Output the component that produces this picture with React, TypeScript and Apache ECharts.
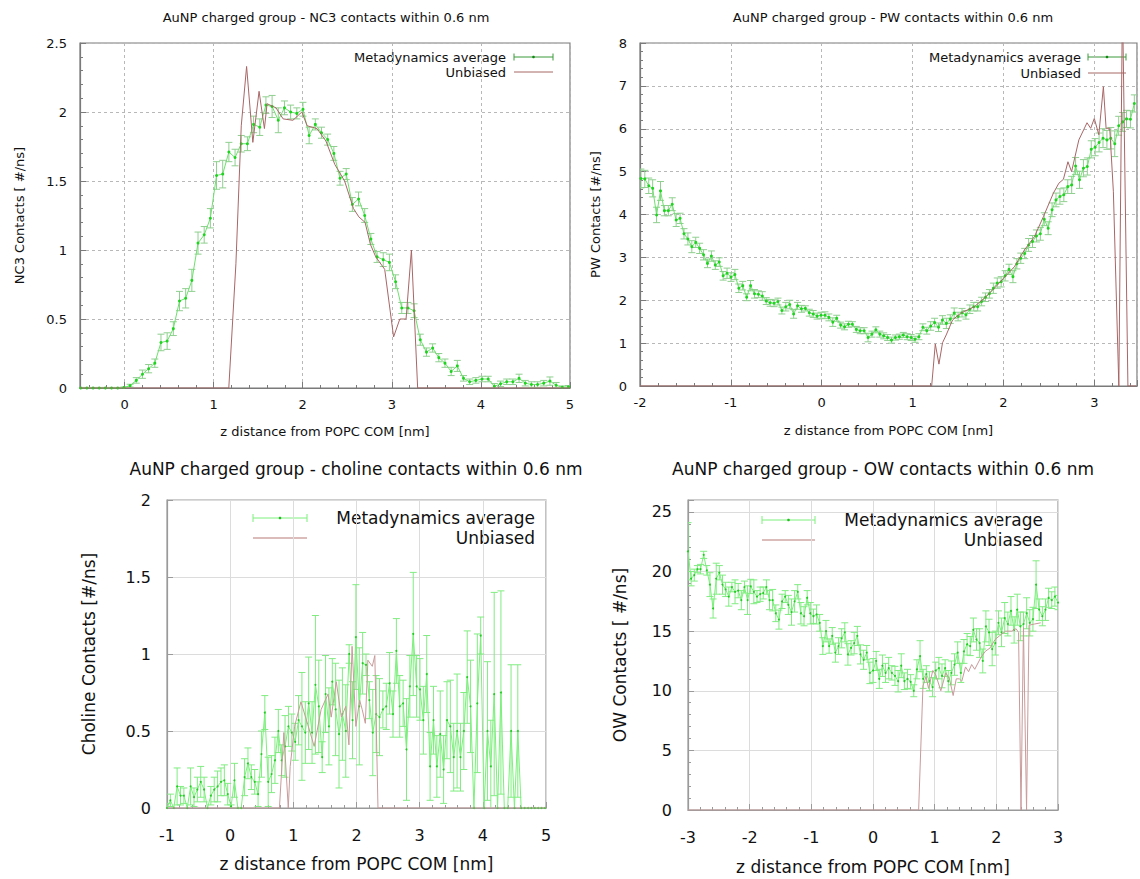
import React, { useEffect, useRef } from "react";
import * as echarts from "echarts";

const FONT = "DejaVu Sans, Verdana, sans-serif";

// ---------- Panel 1: NC3 contacts ----------
const nc3Start = -0.492;
const nc3Step = 0.0693;
const nc3Y = [
  0, 0, 0, 0, 0, 0, 0, 0.003,
  0.017, 0.055, 0.10, 0.14, 0.18, 0.33, 0.34, 0.43,
  0.63, 0.65, 0.78, 1.05, 1.11, 1.23, 1.54, 1.55,
  1.71, 1.67, 1.77, 1.77, 1.91, 1.89, 2.05, 2.04,
  1.94, 2.03, 2.0, 1.99, 2.02, 1.83, 1.91, 1.85,
  1.80, 1.70, 1.52, 1.55, 1.33, 1.37, 1.25, 1.08,
  0.95, 0.93, 0.91, 0.77, 0.58, 0.58, 0.56, 0.35,
  0.26, 0.29, 0.22, 0.18, 0.12, 0.16, 0.07, 0.045,
  0.055, 0.065, 0.065, 0.012, 0.03, 0.045, 0.045, 0.07,
  0.035, 0.025, 0.025, 0.035, 0.05, 0.02, 0.005, 0.008,
];
const nc3Err = [
  0.004, 0.004, 0.004, 0.004, 0.004, 0.004, 0.004, 0.004,
  0.01, 0.02, 0.03, 0.03, 0.03, 0.06, 0.06, 0.05,
  0.07, 0.07, 0.08, 0.08, 0.06, 0.07, 0.1, 0.1,
  0.07, 0.06, 0.06, 0.05, 0.06, 0.06, 0.06, 0.08,
  0.09, 0.05, 0.05, 0.04, 0.05, 0.06, 0.04, 0.04,
  0.04, 0.05, 0.05, 0.04, 0.05, 0.05, 0.05, 0.04,
  0.04, 0.05, 0.06, 0.05, 0.04, 0.04, 0.05, 0.04,
  0.03, 0.03, 0.03, 0.03, 0.03, 0.04, 0.02, 0.02,
  0.02, 0.02, 0.02, 0.02, 0.02, 0.02, 0.02, 0.03,
  0.02, 0.02, 0.02, 0.02, 0.03, 0.02, 0.01, 0.01,
];
const nc3UbX = [-0.5, 1.17, 1.25, 1.31, 1.37, 1.44, 1.51, 1.57, 1.6, 1.7, 1.78, 1.89, 1.99, 2.05, 2.16, 2.26, 2.36, 2.47, 2.57, 2.63, 2.7, 2.76, 2.82, 2.92, 3.02, 3.09, 3.16, 3.22, 3.29, 5.0];
const nc3UbY = [0, 0, 0.9, 1.9, 2.33, 1.78, 2.15, 1.88, 2.06, 2.03, 1.95, 1.94, 2.0, 1.9, 1.88, 1.79, 1.62, 1.5, 1.3, 1.24, 1.2, 1.04, 0.95, 0.86, 0.37, 0.5, 0.5, 1.0, 0, 0];

// ---------- Panel 2: PW contacts ----------
const pwStart = -1.99;
const pwStep = 0.0431;
const pwY = [
  4.84, 4.83, 4.67, 4.61, 3.99, 4.55, 4.09, 4.09,
  4.24, 3.87, 3.91, 3.55, 3.43, 3.25, 3.35, 3.21,
  3.06, 2.86, 3.03, 2.82, 2.89, 2.57, 2.63, 2.54,
  2.6, 2.28, 2.34, 2.07, 2.34, 2.15, 2.14, 2.1,
  1.98, 1.94, 1.93, 1.97, 1.76, 1.85, 1.9, 1.68,
  1.87, 1.8, 1.81, 1.71, 1.68, 1.63, 1.65, 1.65,
  1.6, 1.49, 1.58, 1.42, 1.38, 1.44, 1.44, 1.32,
  1.29, 1.29, 1.13, 1.21, 1.31, 1.21,
  1.17, 1.13, 1.07, 1.13, 1.15, 1.19, 1.15, 1.13, 1.09, 1.15,
  1.37, 1.29, 1.40, 1.48, 1.37, 1.54, 1.46, 1.56, 1.70, 1.62,
  1.71, 1.66, 1.79, 1.85, 1.85, 1.97, 2.07, 2.15, 2.28, 2.40,
  2.43, 2.57, 2.72, 2.55, 2.85, 2.98, 3.09, 3.29, 3.37, 3.5,
  3.55, 3.89, 3.68, 4.11, 4.34, 4.42, 4.46, 4.65, 4.69, 5.13,
  4.81, 5.08, 5.12, 5.52, 5.57, 5.68, 5.78, 5.74, 5.78, 5.65,
  6.07, 6.16, 6.23, 6.22, 6.59,
];
const pwErr = [
  0.22, 0.2, 0.18, 0.2, 0.18, 0.22, 0.12, 0.12,
  0.15, 0.15, 0.12, 0.12, 0.14, 0.14, 0.12, 0.12,
  0.12, 0.1, 0.12, 0.1, 0.1, 0.1, 0.12, 0.1,
  0.12, 0.1, 0.1, 0.08, 0.12, 0.1, 0.08, 0.1,
  0.08, 0.08, 0.08, 0.08, 0.08, 0.1, 0.1, 0.1,
  0.08, 0.08, 0.06, 0.08, 0.08, 0.07, 0.07, 0.08,
  0.08, 0.1, 0.07, 0.07, 0.07, 0.07, 0.06, 0.07,
  0.07, 0.07, 0.1, 0.07, 0.07, 0.07,
  0.07, 0.07, 0.07, 0.06, 0.06, 0.06, 0.07, 0.07, 0.07, 0.07,
  0.08, 0.08, 0.1, 0.1, 0.1, 0.1, 0.12, 0.1, 0.12, 0.1,
  0.1, 0.1, 0.1, 0.1, 0.1, 0.1, 0.1, 0.1, 0.12, 0.12,
  0.12, 0.12, 0.12, 0.14, 0.12, 0.12, 0.12, 0.15, 0.14, 0.14,
  0.15, 0.15, 0.15, 0.16, 0.16, 0.18, 0.16, 0.16, 0.2, 0.2,
  0.2, 0.2, 0.2, 0.2, 0.2, 0.22, 0.22, 0.22, 0.25, 0.3,
  0.22, 0.22, 0.2, 0.2, 0.2,
];
const pwUbX = [-2, 1.21, 1.25, 1.29, 1.33, 1.37, 1.44, 1.53, 1.68, 1.79, 1.9, 2.0, 2.12, 2.23, 2.34, 2.44, 2.55, 2.61, 2.66, 2.71, 2.75, 2.83, 2.92, 2.96, 3.0, 3.05, 3.1, 3.13, 3.17, 3.21, 3.27, 3.31, 3.37, 3.46];
const pwUbY = [0, 0, 0.98, 0.51, 1.01, 1.19, 1.54, 1.7, 1.85, 2.05, 2.28, 2.51, 2.78, 3.17, 3.48, 3.95, 4.5, 4.73, 4.82, 5.23, 5.0, 5.74, 6.14, 6.01, 6.24, 5.86, 6.98, 6.01, 6.01, 4.53, 0, 9, 0, 0];

// ---------- Panel 3: choline contacts ----------
const choStart = -1.0;
const choStep = 0.0534;
const choY = [
  0, 0.05, 0, 0.14, 0.08, 0.08, 0, 0.14,
  0.07, 0.12, 0.17, 0.12, 0, 0.08, 0.12, 0.14,
  0.17, 0.18, 0.09, 0.01, 0.18, 0, 0, 0.2,
  0.29, 0.2, 0.17, 0.09, 0.35, 0.62, 0.17, 0.22,
  0.31, 0.5, 0.31, 0.4, 0.53, 0.49, 0.43, 0.57,
  0.53, 0.49, 0.68, 0.49, 0.8, 0.66, 0.33, 0.74,
  0.53, 0.82, 0.64, 0.48, 0.61, 0.5, 1.0, 0.57,
  1.11, 0.66, 0.94, 0.93, 0.7, 0.49, 0.61, 0.59,
  0.64, 0.66, 0.81, 0.61, 1.02, 0.66, 0.68, 0.38,
  0.79, 1.13, 0.79, 0.77, 0.57, 0.87, 0.27, 0.57,
  0.27, 0.48, 0.25, 0.57, 0.53, 0.33, 0.5, 0.33,
  0.5, 0.85, 0.66, 0, 0.68, 1.12, 0, 0.5,
  0.27, 0.74, 0, 0.75, 0, 0, 0.5, 0,
  0.5, 0, 0, 0, 0, 0, 0, 0,
  0,
];
const choErr = [
  0.03, 0.04, 0, 0.12, 0.06, 0.05, 0, 0.12,
  0.06, 0.08, 0.1, 0.08, 0, 0.06, 0.08, 0.1,
  0.09, 0.1, 0.07, 0.01, 0.11, 0, 0, 0.12,
  0.1, 0.08, 0.08, 0.08, 0.15, 0.11, 0.16, 0.12,
  0.15, 0.14, 0.1, 0.2, 0.13, 0.12, 0.12, 0.16,
  0.35, 0.2, 0.3, 0.2, 0.45, 0.3, 0.1, 0.25,
  0.25, 0.15, 0.3, 0.35, 0.3, 0.3, 0.06, 0.25,
  0.34, 0.38, 0.2, 0.07, 0.12, 0.28, 0.25, 0.25,
  0.12, 0.15, 0.2, 0.15, 0.21, 0.2, 0.15, 0.33,
  0.2, 0.4, 0.2, 0.2, 0.22, 0.25, 0.22, 0.22,
  0.2, 0.28, 0.22, 0.25, 0.3, 0.22, 0.37, 0.22,
  0.25, 0.3, 0.3, 0, 0.45, 0.12, 0, 0.45,
  0.3, 0.66, 0, 0.66, 0, 0, 0.43, 0,
  0.43, 0, 0, 0, 0, 0, 0, 0,
  0,
];
const choUbX = [-1, 0.78, 0.85, 0.92, 0.95, 1.02, 1.12, 1.23, 1.33, 1.44, 1.55, 1.6, 1.68, 1.76, 1.83, 1.88, 1.93, 1.99, 2.05, 2.09, 2.14, 2.18, 2.25, 2.29, 2.34, 5];
const choUbY = [0, 0, 0.49, 0, 0.27, 0.53, 0.69, 0.54, 0.4, 0.64, 0.74, 0.59, 0.82, 0.59, 0.66, 0.41, 1.05, 0.53, 0.7, 0.64, 0.55, 0.96, 0.92, 0.99, 0, 0];

// ---------- Panel 4: OW contacts ----------
const owStart = -3.0;
const owStep = 0.05085;
const owY = [
  21.7, 19.4, 19.7, 20.2, 20.2, 21.4, 20.1, 18.9,
  16.9, 19.4, 19.9, 18.9, 18.5, 17.9, 18.7, 18.3,
  18.4, 17.6, 18.7, 17.6, 18.75, 18.3, 17.9, 18.1,
  18.2, 18.7, 17.6, 17.6, 16.5, 15.97, 17.5, 17.9,
  17.2, 16.6, 17.5, 18.3, 16.5, 16.25, 17.8, 16.5,
  16.25, 16.4, 15.7, 13.75, 15.0, 13.75, 14.6, 13.2,
  13.75, 14.4, 14.9, 13.05, 13.6, 14.0, 14.6, 13.05,
  12.6, 13.2, 11.5, 11.7, 12.5, 11.0, 12.1, 11.5,
  11.9, 11.5, 11.25, 10.8, 12.1, 10.8, 11.0, 10.75,
  10.0, 11.8, 12.9, 11.0, 11.4, 10.8, 10.3, 11.7,
  11.9, 11.25, 11.9, 10.8, 11.5, 12.2, 13.2, 11.5,
  13.3, 13.9, 13.75, 15.1, 14.3, 14.0, 12.5, 15.4,
  14.9, 13.5, 14.0, 15.7, 14.9, 16.1, 15.6, 16.7,
  15.1, 16.8, 15.4, 15.6, 16.5, 15.7, 16.0, 18.9,
  16.8, 16.25, 16.8, 17.8, 17.6, 17.9, 17.4,
];
const owErr = [
  2.4, 0.6, 0.5, 0.3, 0.4, 0.3, 0.4, 1.0,
  0.8, 1.3, 0.6, 0.8, 0.6, 0.8, 0.4, 1.0,
  0.6, 0.8, 0.5, 1.2, 0.6, 1.0, 0.5, 0.6,
  0.5, 0.6, 0.8, 0.9, 0.7, 0.8, 0.6, 0.5,
  0.8, 1.1, 0.9, 0.6, 0.9, 0.8, 0.6, 0.9,
  0.6, 0.8, 0.7, 0.7, 0.9, 0.6, 0.7, 0.8,
  0.7, 0.8, 0.8, 0.9, 0.6, 0.9, 0.8, 0.8,
  0.8, 0.6, 0.9, 1.0, 0.8, 0.8, 0.9, 0.8,
  0.9, 0.6, 0.8, 0.9, 1.0, 0.7, 0.8, 0.6,
  0.5, 0.8, 1.3, 0.8, 0.7, 0.8, 0.8, 0.7,
  0.9, 1.0, 0.7, 0.9, 1.0, 0.9, 0.9, 0.8,
  1.0, 0.9, 0.8, 1.0, 0.9, 1.2, 1.0, 1.3,
  1.1, 1.4, 1.0, 1.0, 1.2, 1.3, 1.0, 1.2,
  1.1, 1.3, 1.2, 1.0, 1.3, 1.1, 1.0, 2.0,
  0.9, 0.8, 0.9, 0.8, 0.7, 0.8, 0.6,
];
const owUbX = [-3, 0.74, 0.81, 0.86, 0.9, 0.97, 1.02, 1.1, 1.18, 1.24, 1.3, 1.35, 1.4, 1.44, 1.5, 1.55, 1.6, 1.65, 1.75, 1.82, 1.9, 1.98, 2.05, 2.15, 2.25, 2.32, 2.36, 2.4, 2.44, 2.49, 2.53, 2.62, 2.72];
const owUbY = [0, 0, 10.4, 11.2, 10.2, 11.7, 11.3, 10.0, 11.5, 11.0, 9.6, 11.0, 11.0, 10.8, 12.0, 11.6, 12.2, 11.8, 12.8, 13.3, 13.6, 14.3, 14.6, 15.0, 15.0, 15.2, 14.9, 0, 15.3, 0, 15.5, 15.6, 15.7];

// ---------- Texts ----------
const titles = [
  "AuNP charged group - NC3 contacts within 0.6 nm",
  "AuNP charged group - PW contacts within 0.6 nm",
  "AuNP charged group - choline contacts within 0.6 nm",
  "AuNP charged group - OW contacts within 0.6 nm",
];
const yNames = ["NC3 Contacts [ #/ns]", "PW Contacts [#/ns]", "Choline Contacts [#/ns]", "OW Contacts [ #/ns]"];
const xName = "z distance from POPC COM [nm]";
const legendNames = ["Metadynamics average", "Unbiased"];

function triples(start: number, step: number, ys: number[], errs: number[]) {
  return ys.map((y, i) => [+(start + i * step).toFixed(4), y, errs[i] ?? 0]);
}
function pairs(xs: number[], ys: number[]) {
  return xs.map((x, i) => [x, ys[i]]);
}

const panels = [
  {
    grid: { left: 80, top: 43, width: 490, height: 345 },
    x: { min: -0.5, max: 5, iv: 1 }, y: { min: 0, max: 2.5, iv: 0.5 },
    data: triples(nc3Start, nc3Step, nc3Y, nc3Err), ub: pairs(nc3UbX, nc3UbY),
    big: false, title: { x: 326, y: 11 },
    yGap: 54, xGap: 37, legend: { tr: 506, y1: 57, y2: 72, s1: 514, s2: 553 },
  },
  {
    grid: { left: 640, top: 43, width: 500, height: 343 },
    x: { min: -2, max: 3.47, iv: 1 }, y: { min: 0, max: 8, iv: 1 },
    data: triples(pwStart, pwStep, pwY, pwErr), ub: pairs(pwUbX, pwUbY),
    big: false, title: { x: 893, y: 11 },
    yGap: 38, xGap: 38, legend: { tr: 1081, y1: 57, y2: 73, s1: 1088, s2: 1126 },
  },
  {
    grid: { left: 167, top: 500, width: 379, height: 308 },
    x: { min: -1, max: 5, iv: 1 }, y: { min: 0, max: 2, iv: 0.5 },
    data: triples(choStart, choStep, choY, choErr), ub: pairs(choUbX, choUbY),
    big: true, title: { x: 356, y: 460 },
    yGap: 70, xGap: 47, legend: { tr: 535, y1: 518, y2: 538, s1: 253, s2: 307 },
  },
  {
    grid: { left: 688, top: 500, width: 370, height: 310 },
    x: { min: -3, max: 3, iv: 1 }, y: { min: 0, max: 26, iv: 5 },
    data: triples(owStart, owStep, owY, owErr), ub: pairs(owUbX, owUbY),
    big: true, title: { x: 883, y: 460 },
    yGap: 60, xGap: 48, legend: { tr: 1043, y1: 520, y2: 540, s1: 762, s2: 815 },
  },
];

function labelFmt(iv: number) {
  return (v: number) => {
    const r = v / iv;
    if (Math.abs(r - Math.round(r)) > 1e-6) return "";
    return String(+v.toFixed(4));
  };
}

export default function App() {
  const ref = useRef<HTMLDivElement>(null);
  useEffect(() => {
    if (!ref.current) return;
    const chart = echarts.init(ref.current, null, { renderer: "svg" });

    const grids: any[] = [];
    const xAxes: any[] = [];
    const yAxes: any[] = [];
    const series: any[] = [];
    const titleArr: any[] = [];
    const graphics: any[] = [];

    panels.forEach((p, gi) => {
      const big = p.big;
      const tickFont = big ? 16 : 13;
      const nameFont = big ? 17 : 13;
      const borderColor = big ? "#9a9a9a" : "#7a7a7a";
      const splitStyle = big
        ? { color: "#dcdcdc", width: 1, type: "solid" }
        : { color: "#b8b8b8", width: 1, type: [3, 3] };
      const metColor = big ? "#7cf07c" : "#6ee06e";
      const barColor = big ? "#80ec80" : "#8fcf8f";
      const ptColor = big ? "#22cc22" : "#1ed41e";
      const ubColor = big ? "#c99a9a" : "#a86666";
      const cap = 3.5;

      grids.push({ ...p.grid, show: true, borderColor, borderWidth: 1.2, backgroundColor: "transparent", containLabel: false });
      xAxes.push({
        type: "value", gridIndex: gi, min: p.x.min, max: p.x.max, minInterval: p.x.iv, maxInterval: p.x.iv,
        name: xName, nameLocation: "middle", nameGap: p.xGap,
        nameTextStyle: { fontSize: nameFont, color: "#111", fontFamily: FONT },
        axisLine: { show: true, onZero: false, lineStyle: { color: borderColor, width: 1.2 } },
        axisTick: { show: true, inside: true, length: 6, lineStyle: { color: borderColor } },
        minorTick: { show: true, splitNumber: 5, length: 3, lineStyle: { color: borderColor } },
        axisLabel: { fontSize: tickFont, color: "#111", fontFamily: FONT, margin: big ? 19 : 10, formatter: labelFmt(p.x.iv) },
        splitLine: { show: true, lineStyle: splitStyle },
      });
      yAxes.push({
        type: "value", gridIndex: gi, min: p.y.min, max: p.y.max, interval: p.y.iv,
        name: yNames[gi], nameLocation: "middle", nameGap: p.yGap, nameRotate: 90,
        nameTextStyle: { fontSize: nameFont, color: "#111", fontFamily: FONT },
        axisLine: { show: true, onZero: false, lineStyle: { color: borderColor, width: 1.2 } },
        axisTick: { show: true, inside: true, length: 6, lineStyle: { color: borderColor } },
        minorTick: { show: gi !== 2, splitNumber: 5, length: 3, lineStyle: { color: borderColor } },
        axisLabel: { fontSize: tickFont, color: "#111", fontFamily: FONT, margin: big ? 16 : 13, formatter: labelFmt(p.y.iv) },
        splitLine: { show: true, lineStyle: splitStyle },
      });

      // error bars
      series.push({
        type: "custom", name: legendNames[0] + " error", xAxisIndex: gi, yAxisIndex: gi,
        clip: true, silent: true, z: 2,
        data: p.data, encode: { x: 0, y: 1 },
        renderItem: (params: any, api: any) => {
          const x = api.value(0), y = api.value(1), e = api.value(2);
          if (!(e > 0)) return null;
          const lo = api.coord([x, y - e]);
          const hi = api.coord([x, y + e]);
          const style = { stroke: barColor, lineWidth: 1, fill: "none" };
          return {
            type: "group",
            children: [
              { type: "line", shape: { x1: lo[0], y1: lo[1], x2: hi[0], y2: hi[1] }, style },
              { type: "line", shape: { x1: lo[0] - cap, y1: lo[1], x2: lo[0] + cap, y2: lo[1] }, style },
              { type: "line", shape: { x1: hi[0] - cap, y1: hi[1], x2: hi[0] + cap, y2: hi[1] }, style },
            ],
          };
        },
      });
      // mean line
      series.push({
        type: "line", name: legendNames[0], xAxisIndex: gi, yAxisIndex: gi, z: 3,
        data: p.data.map((d) => [d[0], d[1]]),
        symbol: "circle", symbolSize: big ? 2 : 3, showSymbol: true,
        lineStyle: { color: metColor, width: 1 }, itemStyle: { color: ptColor, borderWidth: 0 },
        clip: true, silent: true,
      });
      // unbiased
      series.push({
        type: "line", name: legendNames[1], xAxisIndex: gi, yAxisIndex: gi, z: 4,
        data: p.ub, symbol: "none", lineStyle: { color: ubColor, width: 1 }, clip: true, silent: true,
      });

      titleArr.push({
        text: titles[gi], left: p.title.x, top: p.title.y, textAlign: "center", padding: 0,
        textStyle: { fontSize: big ? 17 : 13, fontWeight: "normal", color: "#111", fontFamily: FONT },
      });

      // legend drawn as graphics
      const L = p.legend;
      const lf = `${big ? 17 : 13}px ${FONT}`;
      const legMet = big ? "#7cf07c" : "#3a9a3a";
      const legUb = big ? "#d0a4a4" : "#a86666";
      const mid = (L.s1 + L.s2) / 2;
      const ch = big ? 4 : 3.5;
      graphics.push(
        { type: "text", x: L.tr, y: L.y1, style: { text: legendNames[0], font: lf, fill: "#111", align: "right", textAlign: "right", verticalAlign: "middle", textVerticalAlign: "middle" } },
        { type: "text", x: L.tr, y: L.y2, style: { text: legendNames[1], font: lf, fill: "#111", align: "right", textAlign: "right", verticalAlign: "middle", textVerticalAlign: "middle" } },
        { type: "line", shape: { x1: L.s1, y1: L.y1, x2: L.s2, y2: L.y1 }, style: { stroke: legMet, lineWidth: 1 } },
        { type: "line", shape: { x1: L.s1, y1: L.y1 - ch, x2: L.s1, y2: L.y1 + ch }, style: { stroke: legMet, lineWidth: 1 } },
        { type: "line", shape: { x1: L.s2, y1: L.y1 - ch, x2: L.s2, y2: L.y1 + ch }, style: { stroke: legMet, lineWidth: 1 } },
        { type: "circle", shape: { cx: mid, cy: L.y1, r: 1.3 }, style: { fill: big ? "#22bb22" : "#118811" } },
        { type: "line", shape: { x1: L.s1, y1: L.y2, x2: L.s2, y2: L.y2 }, style: { stroke: legUb, lineWidth: big ? 1.5 : 1 } },
      );
    });

    chart.setOption({
      animation: false,
      backgroundColor: "#ffffff",
      textStyle: { fontFamily: FONT },
      title: titleArr,
      grid: grids,
      xAxis: xAxes,
      yAxis: yAxes,
      series,
      graphic: graphics,
    });
    return () => chart.dispose();
  }, []);
  return <div ref={ref} style={{ position: "absolute", left: 0, top: 0, width: 1140, height: 879 }} />;
}
